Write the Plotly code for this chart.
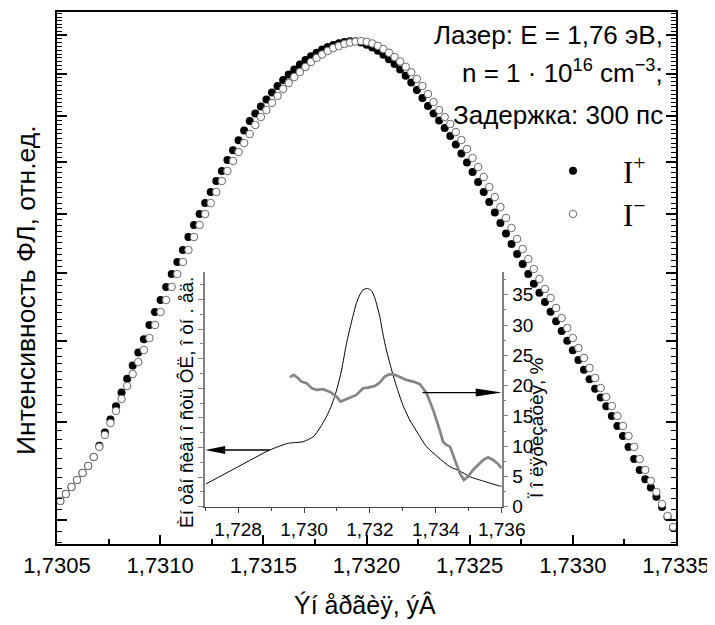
import plotly.graph_objects as go

# ---------------- main spectrum (energy, eV) ----------------
energy = [
    1.730516, 1.730543, 1.730570, 1.730597, 1.730624, 1.730651, 1.730678, 1.730705, 1.730732, 1.730759,
    1.730786, 1.730813, 1.730840, 1.730867, 1.730894, 1.730921, 1.730948, 1.730975, 1.731002, 1.731029,
    1.731056, 1.731083, 1.731110, 1.731137, 1.731164, 1.731191, 1.731218, 1.731245, 1.731272, 1.731299,
    1.731326, 1.731353, 1.731380, 1.731407, 1.731434, 1.731461, 1.731488, 1.731515, 1.731542, 1.731569,
    1.731596, 1.731623, 1.731650, 1.731677, 1.731704, 1.731731, 1.731758, 1.731785, 1.731812, 1.731839,
    1.731866, 1.731893, 1.731920, 1.731947, 1.731974, 1.732001, 1.732028, 1.732055, 1.732082, 1.732109,
    1.732136, 1.732163, 1.732190, 1.732217, 1.732244, 1.732271, 1.732298, 1.732325, 1.732352, 1.732379,
    1.732406, 1.732433, 1.732460, 1.732487, 1.732514, 1.732541, 1.732568, 1.732595, 1.732622, 1.732649,
    1.732676, 1.732703, 1.732730, 1.732757, 1.732784, 1.732811, 1.732838, 1.732865, 1.732892, 1.732919,
    1.732946, 1.732973, 1.733000, 1.733027, 1.733054, 1.733081, 1.733108, 1.733135, 1.733162, 1.733189,
    1.733216, 1.733243, 1.733270, 1.733297, 1.733324, 1.733351, 1.733378, 1.733405, 1.733432, 1.733459,
    1.733486,
]

i_plus = [
    4.176, 4.243, 4.311, 4.380, 4.450, 4.521, 4.614, 4.733, 4.877, 5.024,
    5.177, 5.341, 5.509, 5.676, 5.848, 6.026, 6.223, 6.409, 6.586, 6.783,
    6.985, 7.178, 7.376, 7.596, 7.806, 8.003, 8.205, 8.412, 8.624, 8.822,
    9.043, 9.248, 9.458, 9.673, 9.881, 10.051, 10.211, 10.375, 10.541, 10.697,
    10.843, 10.979, 11.104, 11.231, 11.346, 11.443, 11.534, 11.619, 11.685, 11.738,
    11.784, 11.818, 11.838, 11.836, 11.803, 11.748, 11.674, 11.584, 11.480, 11.366,
    11.241, 11.104, 10.951, 10.782, 10.600, 10.410, 10.223, 10.051, 9.893, 9.726,
    9.551, 9.369, 9.180, 8.994, 8.803, 8.606, 8.413, 8.224, 8.031, 7.842,
    7.658, 7.478, 7.310, 7.146, 6.986, 6.834, 6.694, 6.556, 6.413, 6.275,
    6.139, 6.006, 5.876, 5.748, 5.624, 5.503, 5.384, 5.279, 5.176, 5.063,
    4.950, 4.839, 4.720, 4.593, 4.480, 4.387, 4.305, 4.216, 4.120, 4.026,
    3.930,
]

i_minus = [
    4.176, 4.243, 4.311, 4.380, 4.450, 4.521, 4.614, 4.720, 4.850, 4.983,
    5.121, 5.262, 5.419, 5.569, 5.722, 5.880, 6.042, 6.223, 6.409, 6.586,
    6.783, 6.985, 7.178, 7.376, 7.596, 7.806, 8.003, 8.205, 8.412, 8.624,
    8.822, 9.024, 9.210, 9.400, 9.594, 9.791, 9.971, 10.130, 10.292, 10.457,
    10.624, 10.769, 10.917, 11.041, 11.167, 11.294, 11.397, 11.488, 11.579, 11.658,
    11.711, 11.764, 11.804, 11.831, 11.845, 11.826, 11.780, 11.716, 11.632, 11.535,
    11.425, 11.307, 11.174, 11.034, 10.867, 10.696, 10.504, 10.315, 10.130, 9.971,
    9.814, 9.637, 9.464, 9.273, 9.086, 8.902, 8.703, 8.508, 8.317, 8.131,
    7.931, 7.753, 7.562, 7.393, 7.227, 7.065, 6.907, 6.752, 6.616, 6.467,
    6.322, 6.181, 6.042, 5.907, 5.774, 5.645, 5.519, 5.395, 5.286, 5.179,
    5.063, 4.950, 4.839, 4.720, 4.593, 4.480, 4.370, 4.262, 4.148, 4.036,
    3.937,
]

main_x_ticks = [1.7305, 1.7310, 1.7315, 1.7320, 1.7325, 1.7330, 1.7335]
main_x_labels = ["1,7305", "1,7310", "1,7315", "1,7320", "1,7325", "1,7330", "1,7335"]
main_x_minor = [1.73075, 1.73125, 1.73175, 1.73225, 1.73275, 1.73325]
main_y_major = [4, 5, 6, 7, 8, 9, 10, 11, 12]
main_y_minor = [v / 10 for v in range(38, 128) if v % 10]

# ---------------- inset ----------------
pl_energy = [1.72702, 1.72800, 1.72896, 1.72952, 1.72997, 1.73028, 1.73048, 1.73068, 1.73084,
             1.73099, 1.73114, 1.73129, 1.73144, 1.73159, 1.73169, 1.73179, 1.73192, 1.73205,
             1.73215, 1.73230, 1.73239, 1.73250, 1.73266, 1.73281, 1.73300, 1.73321, 1.73345,
             1.73372, 1.73406, 1.73443, 1.73473, 1.73503, 1.73549, 1.73594, 1.73600]
pl_intensity = [0.767, 1.351, 1.916, 2.142, 2.196, 2.365, 2.659, 3.041, 3.436,
                3.943, 4.618, 5.520, 6.240, 6.872, 7.152, 7.321, 7.378, 7.297,
                7.050, 6.419, 5.868, 5.294, 4.618, 4.054, 3.436, 2.929, 2.490,
                2.027, 1.679, 1.351, 1.206, 1.014, 0.851, 0.699, 0.690]

pol_energy = [1.72957, 1.72969, 1.72982, 1.72992, 1.73008, 1.73023, 1.73038, 1.73058, 1.73083,
              1.73099, 1.73111, 1.73124, 1.73139, 1.73159, 1.73179, 1.73195, 1.73215, 1.73230,
              1.73245, 1.73260, 1.73276, 1.73291, 1.73311, 1.73331, 1.73351, 1.73372, 1.73392,
              1.73410, 1.73422, 1.73432, 1.73443, 1.73458, 1.73473, 1.73485, 1.73498, 1.73513,
              1.73528, 1.73544, 1.73559, 1.73574, 1.73589, 1.73599]
pol_percent = [21.39, 21.77, 21.22, 20.66, 20.40, 19.57, 19.29, 19.40, 18.84,
               18.18, 17.36, 17.64, 18.08, 18.46, 19.57, 19.67, 19.95, 20.50,
               21.49, 21.88, 21.77, 21.39, 20.94, 20.66, 20.28, 18.74, 15.98,
               12.96, 10.74, 10.20, 9.92, 7.72, 5.52, 4.41, 4.96, 6.07,
               6.89, 7.72, 8.17, 7.72, 7.06, 6.35]

inset_x_ticks = [1.728, 1.730, 1.732, 1.734, 1.736]
inset_x_labels = ["1,728", "1,730", "1,732", "1,734", "1,736"]
inset_x_minor = [1.727, 1.729, 1.731, 1.733, 1.735]
inset_left_ticks = [0, 1, 2, 3, 4, 5, 6, 7]
inset_left_minor = [0.5, 1.5, 2.5, 3.5, 4.5, 5.5, 6.5, 7.5]
inset_right_ticks = [0, 5, 10, 15, 20, 25, 30, 35]
inset_right_labels = ["0", "5", "10", "15", "20", "25", "30", "35"]
inset_right_minor = [2.5, 7.5, 12.5, 17.5, 22.5, 27.5, 32.5, 37.5]

# arrows (in inset data units)
left_arrow = dict(x_tail=1.72896, x_head=1.727, y=1.916)
right_arrow = dict(x_tail=1.73360, x_head=1.736, y=18.84)

SANS = "Liberation Sans, Arial, sans-serif"
SERIF = "Liberation Serif, Times New Roman, serif"

fig = go.Figure()
fig.add_trace(go.Scatter(
    x=energy, y=i_plus, mode="markers", name="I<sup>+</sup>",
    marker=dict(symbol="circle", size=8, color="black", line=dict(width=0)),
    xaxis="x", yaxis="y"))
fig.add_trace(go.Scatter(
    x=energy, y=i_minus, mode="markers", name="I<sup>−</sup>",
    marker=dict(symbol="circle", size=7.5, color="white", line=dict(color="#6a6a6a", width=1)),
    xaxis="x", yaxis="y"))
fig.add_trace(go.Scatter(
    x=pl_energy, y=pl_intensity, mode="lines", showlegend=False,
    line=dict(color="black", width=1, shape="spline", smoothing=0.6),
    xaxis="x2", yaxis="y2"))
fig.add_trace(go.Scatter(
    x=pol_energy, y=pol_percent, mode="lines", showlegend=False,
    line=dict(color="#858585", width=2.7),
    xaxis="x2", yaxis="y3"))

# the page body adds an 8 px offset, so the figure is 8 px smaller than the window
fig.update_layout(
    template="none",
    width=707, height=617,
    margin=dict(l=49, r=39, t=4, b=81, autoexpand=False),
    paper_bgcolor="white", plot_bgcolor="rgba(0,0,0,0)",
    font=dict(family=SANS, color="black"),
    xaxis=dict(
        domain=[0, 1], anchor="y", range=[1.7305, 1.7335], automargin=False,
        tickmode="array", tickvals=main_x_ticks, ticktext=main_x_labels,
        ticks="inside", ticklen=9, tickwidth=1.5, tickcolor="black",
        minor=dict(tickvals=main_x_minor, ticks="inside", ticklen=5, tickwidth=1.5, tickcolor="black"),
        showline=True, linewidth=2, linecolor="black", mirror=True,
        showgrid=False, zeroline=False, tickfont=dict(size=22), ticklabelstandoff=1),
    yaxis=dict(
        domain=[0, 1], anchor="x", type="log", range=[0.5784, 1.1021], automargin=False,
        tickmode="array", tickvals=main_y_major, showticklabels=False,
        ticks="inside", ticklen=10, tickwidth=1.5, tickcolor="black",
        minor=dict(tickvals=main_y_minor, ticks="inside", ticklen=5, tickwidth=1.2, tickcolor="black"),
        showline=True, linewidth=2, linecolor="black", mirror="ticks",
        showgrid=False, zeroline=False),
    xaxis2=dict(
        domain=[0.2394, 0.7184], anchor="y2", range=[1.727, 1.736], automargin=False,
        tickmode="array", tickvals=inset_x_ticks, ticktext=inset_x_labels,
        ticks="outside", ticklen=5, tickwidth=1, tickcolor="#444",
        minor=dict(tickvals=inset_x_minor, ticks="outside", ticklen=3, tickwidth=1, tickcolor="#444"),
        showline=True, linewidth=1.2, linecolor="#444",
        showgrid=False, zeroline=False, tickfont=dict(size=19)),
    yaxis2=dict(
        domain=[0.0701, 0.5118], anchor="x2", range=[0, 7.94], automargin=False,
        tickmode="array", tickvals=inset_left_ticks, showticklabels=False,
        ticks="outside", ticklen=5, tickwidth=1, tickcolor="#808080",
        minor=dict(tickvals=inset_left_minor, ticks="outside", ticklen=3, tickwidth=1, tickcolor="#808080"),
        showline=True, linewidth=1.5, linecolor="#808080",
        showgrid=False, zeroline=False),
    yaxis3=dict(
        overlaying="y2", anchor="x2", side="right", range=[0, 38.8], automargin=False,
        tickmode="array", tickvals=inset_right_ticks, ticktext=inset_right_labels,
        ticks="outside", ticklen=5, tickwidth=1, tickcolor="#808080",
        minor=dict(tickvals=inset_right_minor, ticks="outside", ticklen=3, tickwidth=1, tickcolor="#808080"),
        showline=True, linewidth=1.5, linecolor="#808080",
        showgrid=False, zeroline=False, tickfont=dict(size=19)),
    legend=dict(
        x=0.7528, xanchor="left", y=0.6607, yanchor="middle",
        font=dict(family=SERIF, size=31), itemwidth=90,
        bgcolor="rgba(0,0,0,0)", borderwidth=0, tracegroupgap=0),
    showlegend=True,
)

annotations = [
    dict(text="Лазер: E = 1,76 эВ,", x=0.9822, y=0.9568, xanchor="right", yanchor="middle"),
    dict(text="n = 1 · 10<sup>16</sup> cm<sup>−3</sup>;", x=0.9822, y=0.8890, xanchor="right", yanchor="middle"),
    dict(text="Задержка: 300 пс", x=0.9822, y=0.8064, xanchor="right", yanchor="middle"),
]
for a in annotations:
    a.update(xref="paper", yref="paper", showarrow=False, font=dict(size=26, family=SANS))
    fig.add_annotation(**a)

fig.add_annotation(text="Интенсивность ФЛ, отн.ед.", xref="paper", yref="paper",
                   x=-0.0501, y=0.4774, textangle=-90, showarrow=False,
                   xanchor="center", yanchor="middle", font=dict(size=26.5, family=SANS))
fig.add_annotation(text="Ýí åðãèÿ, ýÂ", xref="paper", yref="paper",
                   x=0.4976, y=-0.1147, showarrow=False,
                   xanchor="center", yanchor="middle", font=dict(size=25, family=SANS))
fig.add_annotation(text="Èí òåí ñèâí î ñòü ÔË, î òí . åä.", xref="paper", yref="paper",
                   x=0.2084, y=0.2669, textangle=-90, showarrow=False,
                   xanchor="center", yanchor="middle", font=dict(size=19, family=SANS))
fig.add_annotation(text="Ï î ëÿðèçàöèÿ, %", xref="paper", yref="paper",
                   x=0.7738, y=0.2199, textangle=-90, showarrow=False,
                   xanchor="center", yanchor="middle", font=dict(size=19, family=SANS))

fig.add_shape(type="line", xref="x2", yref="y2",
              x0=left_arrow["x_tail"], x1=left_arrow["x_head"] + 0.0002,
              y0=left_arrow["y"], y1=left_arrow["y"], line=dict(color="black", width=1.3))
fig.add_shape(type="path", xref="x2", yref="y2", xsizemode="pixel", ysizemode="pixel",
              xanchor=left_arrow["x_head"], yanchor=left_arrow["y"],
              path="M0,0 L20,4 L20,-4 Z", fillcolor="black", line=dict(width=0))
fig.add_shape(type="line", xref="x2", yref="y3",
              x0=right_arrow["x_tail"], x1=right_arrow["x_head"] - 0.0002,
              y0=right_arrow["y"], y1=right_arrow["y"], line=dict(color="black", width=1.3))
fig.add_shape(type="path", xref="x2", yref="y3", xsizemode="pixel", ysizemode="pixel",
              xanchor=right_arrow["x_head"], yanchor=right_arrow["y"],
              path="M0,0 L-26,4 L-26,-4 Z", fillcolor="black", line=dict(width=0))

fig.write_html("out.html")
